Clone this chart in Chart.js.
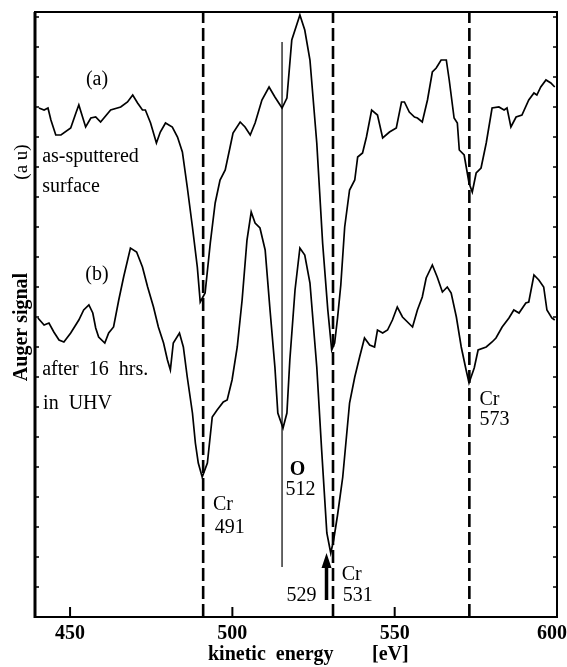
<!DOCTYPE html>
<html>
<head>
<meta charset="utf-8">
<title>Auger spectra</title>
<script src="https://cdn.jsdelivr.net/npm/chart.js@4/dist/chart.umd.min.js"></script>
<style>
  html, body { margin: 0; padding: 0; background: #fff; }
  #wrap { position: relative; width: 567px; height: 667px; }
</style>
</head>
<body>
<div id="wrap"><canvas id="augerChart"></canvas></div>
<script>
// Spectrum data (kinetic energy in eV, signal in arbitrary units)
// ===============================================================

// (a) as-sputtered surface
const energyA = [440.4, 442.0, 443.2, 444.1, 445.6, 447.2, 450.2, 451.8, 452.7, 454.8, 456.4, 457.9, 459.4, 462.5,
  465.6, 467.7, 469.3, 470.8, 472.3, 473.2, 474.8, 476.6, 477.8, 479.4, 481.5, 483.1, 484.6, 486.1, 487.7, 489.2,
  490.1, 491.6, 493.2, 494.7, 496.2, 497.8, 499.3, 500.2, 502.4, 503.9, 505.5, 507.0, 509.1, 511.3, 513.1, 515.3,
  516.8, 518.3, 520.8, 522.3, 523.9, 526.0, 527.8, 529.4, 530.6, 531.5, 532.4, 533.4, 534.6, 536.1, 537.7, 538.6,
  540.1, 541.3, 542.9, 544.7, 546.3, 548.4, 550.5, 552.1, 553.0, 554.5, 556.1, 557.0, 558.5, 560.1, 561.6, 562.8,
  564.3, 565.9, 566.8, 568.3, 569.3, 569.9, 571.4, 572.9, 573.9, 575.1, 576.6, 578.2, 580.0, 582.1, 583.7, 584.6,
  585.8, 587.4, 589.2, 591.3, 592.9, 593.8, 595.0, 596.6, 598.1, 599.3];
const signalA = [509, 507, 509, 497, 482, 482, 489, 504, 512, 490, 499, 500, 495, 507,
  510, 515, 522, 514, 507, 507, 494, 474, 485, 494, 490, 480, 465, 430, 390, 350,
  315, 324, 374, 414, 437, 447, 470, 484, 495, 490, 482, 494, 517, 530, 520, 509,
  519, 577, 602, 587, 557, 474, 374, 307, 267, 274, 299, 332, 390, 427, 437, 460,
  464, 480, 507, 502, 479, 485, 489, 515, 515, 505, 500, 499, 495, 517, 545, 549,
  557, 557, 537, 499, 494, 467, 462, 434, 425, 444, 449, 474, 509, 510, 507, 509,
  490, 500, 502, 517, 524, 522, 530, 537, 534, 530];

// (b) after 16 hrs. in UHV
const energyB = [440.1, 442.0, 443.5, 445.0, 446.6, 448.1, 450.2, 452.7, 454.2, 455.8, 457.0, 457.9, 458.8, 460.7,
  461.9, 463.4, 465.0, 466.5, 468.6, 470.5, 472.3, 473.9, 475.7, 477.2, 478.8, 480.0, 480.9, 481.8, 483.7, 484.9,
  486.1, 487.7, 488.6, 489.5, 490.7, 492.3, 493.8, 495.3, 497.2, 498.4, 499.9, 501.5, 503.0, 504.5, 505.8, 507.0,
  508.5, 510.1, 511.6, 513.1, 514.0, 515.6, 516.8, 517.7, 519.3, 520.8, 522.3, 523.9, 526.0, 527.5, 529.1, 530.3,
  531.2, 532.4, 534.0, 536.1, 537.7, 539.2, 540.7, 542.3, 543.8, 544.7, 546.3, 547.8, 549.3, 550.8, 552.4, 555.5,
  557.0, 558.5, 559.7, 561.6, 563.1, 564.7, 566.2, 567.4, 569.0, 570.5, 572.0, 572.9, 574.5, 575.7, 578.2, 580.0,
  581.2, 583.1, 585.2, 586.7, 588.3, 590.4, 591.3, 592.9, 594.4, 595.9, 596.9, 598.4, 599.3];
const signalB = [299, 292, 294, 285, 277, 275, 284, 297, 307, 312, 304, 289, 280, 274,
  284, 290, 317, 340, 369, 365, 350, 330, 310, 290, 274, 257, 247, 274, 284, 270,
  240, 204, 174, 154, 140, 154, 200, 207, 215, 217, 237, 270, 317, 377, 405, 394,
  389, 367, 307, 250, 204, 189, 204, 257, 327, 369, 362, 334, 250, 167, 84, 64,
  77, 102, 140, 214, 240, 260, 279, 272, 270, 287, 284, 287, 297, 310, 300, 290,
  307, 320, 339, 352, 340, 325, 330, 324, 300, 270, 247, 234, 249, 267, 270, 275,
  279, 290, 299, 307, 304, 314, 315, 342, 337, 330, 307, 299, 297];

// Cr reference energies (dashed lines), O line and the 529 eV arrow
const crLines = [491, 531, 573];
const oLineEnergy = 515.3;
const oLineSpan = [50, 575];
const arrowEnergy = 529;
const arrowSpan = [17, 64];

// Axis layout values
const xTicks = [450, 500, 550, 600];
const xInnerTicks = [450, 500, 550];
const xRange = [439.2, 600];
const yRange = [0, 605];
const yMinorStep = 30;

const SERIF = '"Liberation Serif", "Times New Roman", serif';

function toPoints(xs, ys) {
    return xs.map((v, i) => ({ x: v, y: ys[i] }));
}

// Text placed on the plot, anchored in data coordinates
const plotTexts = [
    { text: '(a)', x: 458.3, y: 537, align: 'center' },
    { text: 'as-sputtered', x: 441.4, y: 460 },
    { text: 'surface', x: 441.4, y: 430 },
    { text: '(b)', x: 458.3, y: 342, align: 'center' },
    { text: 'after  16  hrs.', x: 441.4, y: 247 },
    { text: 'in  UHV', x: 441.7, y: 213 },
    { text: 'Cr', x: 494.0, y: 112 },
    { text: '491', x: 494.6, y: 89 },
    { text: 'O', x: 517.7, y: 147, bold: true },
    { text: '512', x: 516.4, y: 127 },
    { text: '529', x: 516.7, y: 21 },
    { text: 'Cr', x: 533.7, y: 42 },
    { text: '531', x: 534.0, y: 21 },
    { text: 'Cr', x: 576.1, y: 217 },
    { text: '573', x: 576.1, y: 197 }
];

const decorPlugin = {
    id: 'augerDecor',
    afterDatasetsDraw(chart) {
        const { ctx, chartArea: a, scales: { x, y } } = chart;
        ctx.save();
        ctx.strokeStyle = '#000';
        ctx.fillStyle = '#000';

        // frame
        ctx.lineWidth = 2;
        ctx.strokeRect(a.left, a.top, a.right - a.left, a.bottom - a.top);
        ctx.lineWidth = 3;
        ctx.beginPath();
        ctx.moveTo(a.left, a.top);
        ctx.lineTo(a.left, a.bottom + 1);
        ctx.stroke();

        // small inward ticks on both sides
        ctx.lineWidth = 1.5;
        for (let v = yMinorStep; v < yRange[1]; v += yMinorStep) {
            const py = y.getPixelForValue(v);
            ctx.beginPath();
            ctx.moveTo(a.left, py);
            ctx.lineTo(a.left + 4, py);
            ctx.moveTo(a.right, py);
            ctx.lineTo(a.right - 4, py);
            ctx.stroke();
        }

        // inward ticks on x axis
        ctx.lineWidth = 2;
        xInnerTicks.forEach(v => {
            const px = x.getPixelForValue(v);
            ctx.beginPath();
            ctx.moveTo(px, a.bottom);
            ctx.lineTo(px, a.bottom - 10);
            ctx.stroke();
        });

        // x tick labels, kept inside the canvas at the right edge
        ctx.font = 'bold 20px ' + SERIF;
        ctx.textAlign = 'center';
        ctx.textBaseline = 'middle';
        xTicks.forEach(v => {
            const label = String(v);
            const half = ctx.measureText(label).width / 2;
            const px = Math.min(x.getPixelForValue(v), chart.width - half);
            ctx.fillText(label, px, a.bottom + 17);
        });

        // arrow at 529 eV
        const ax = x.getPixelForValue(arrowEnergy);
        const aBase = y.getPixelForValue(arrowSpan[0]);
        const aTip = y.getPixelForValue(arrowSpan[1]);
        ctx.lineWidth = 3.5;
        ctx.beginPath();
        ctx.moveTo(ax, aBase);
        ctx.lineTo(ax, aTip + 12);
        ctx.stroke();
        ctx.beginPath();
        ctx.moveTo(ax, aTip);
        ctx.lineTo(ax - 5, aTip + 15);
        ctx.lineTo(ax + 5, aTip + 15);
        ctx.closePath();
        ctx.fill();

        // plot texts
        plotTexts.forEach(t => {
            ctx.font = (t.bold ? 'bold ' : '') + '20px ' + SERIF;
            ctx.textAlign = t.align || 'left';
            ctx.fillText(t.text, x.getPixelForValue(t.x), y.getPixelForValue(t.y));
        });

        // x axis title
        ctx.textAlign = 'left';
        ctx.font = 'bold 20px ' + SERIF;
        ctx.fillText('kinetic  energy', 208, 655);
        ctx.fillText('[eV]', 372, 655);

        // y axis title
        ctx.translate(22, 0);
        ctx.rotate(-Math.PI / 2);
        ctx.textAlign = 'center';
        ctx.font = 'bold 20px ' + SERIF;
        ctx.fillText('Auger signal', -327, 0);
        ctx.font = '19px ' + SERIF;
        ctx.fillText('(a u)', -162, 0);

        ctx.restore();
    }
};

const datasets = [
    {
        label: '(a) as-sputtered surface',
        data: toPoints(energyA, signalA),
        borderColor: '#000',
        borderWidth: 1.7
    },
    {
        label: '(b) after 16 hrs. in UHV',
        data: toPoints(energyB, signalB),
        borderColor: '#000',
        borderWidth: 1.7
    },
    {
        label: 'O',
        data: [{ x: oLineEnergy, y: oLineSpan[0] }, { x: oLineEnergy, y: oLineSpan[1] }],
        borderColor: '#000',
        borderWidth: 1.2
    }
];

crLines.forEach(e => {
    datasets.push({
        label: 'Cr ' + e,
        data: [{ x: e, y: yRange[0] }, { x: e, y: yRange[1] }],
        borderColor: '#000',
        borderWidth: 2.6,
        borderDash: [13, 5]
    });
});

datasets.forEach(ds => {
    ds.showLine = true;
    ds.pointRadius = 0;
    ds.tension = 0;
    ds.fill = false;
});

new Chart(document.getElementById('augerChart'), {
    type: 'scatter',
    data: { datasets: datasets },
    options: {
        responsive: true,
        maintainAspectRatio: false,
        animation: false,
        layout: { padding: { left: 35, top: 12, right: 10, bottom: 0 } },
        plugins: {
            legend: { display: false },
            tooltip: { enabled: false }
        },
        scales: {
            x: {
                type: 'linear',
                min: xRange[0],
                max: xRange[1],
                afterBuildTicks: axis => {
                    axis.ticks = xTicks.map(v => ({ value: v }));
                },
                afterFit: axis => {
                    // fixed axis height; labels are drawn by the plugin
                    axis.height = 50;
                    axis.paddingLeft = 0;
                    axis.paddingRight = 0;
                },
                grid: { display: false, drawTicks: false },
                border: { display: false },
                ticks: { display: false }
            },
            y: {
                type: 'linear',
                display: false,
                min: yRange[0],
                max: yRange[1]
            }
        }
    },
    plugins: [decorPlugin]
});
</script>
</body>
</html>
